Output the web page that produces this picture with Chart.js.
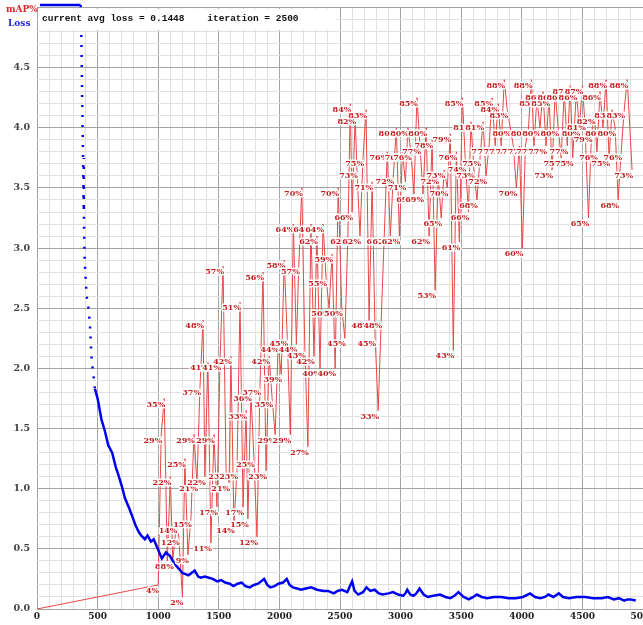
<!DOCTYPE html>
<html>
<head>
<meta charset="utf-8">
<script src="https://cdn.jsdelivr.net/npm/chart.js@4"></script>
<style>
  html, body { margin: 0; padding: 0; background: #fff; overflow: hidden; }
  #chart { position: absolute; left: 0; top: 0; }
</style>
</head>
<body>
<canvas id="chart" width="680" height="625"></canvas>
<script>
// training loss (avg loss per iteration)
const lossIter = [25, 120, 240, 360, 365, 372, 380, 386, 392, 398, 410, 425, 437, 451, 465, 478, 500, 533, 560, 588,
  620, 650, 670, 700, 726, 760, 790, 811, 840, 861, 890, 912, 940, 963, 996, 1030, 1064, 1098, 1120, 1148,
  1175, 1199, 1225, 1250, 1275, 1301, 1330, 1351, 1385, 1418, 1450, 1486, 1520, 1553, 1590, 1621, 1655, 1688, 1720, 1756,
  1790, 1824, 1850, 1874, 1900, 1925, 1960, 1992, 2030, 2060, 2085, 2111, 2145, 2179, 2220, 2262, 2310, 2364, 2400, 2448,
  2480, 2516, 2560, 2600, 2620, 2650, 2690, 2718, 2750, 2786, 2820, 2853, 2900, 2937, 2980, 3021, 3040, 3055, 3080, 3106,
  3130, 3156, 3190, 3224, 3270, 3326, 3370, 3410, 3445, 3477, 3520, 3562, 3600, 3629, 3670, 3714, 3770, 3832, 3890, 3950,
  4010, 4068, 4110, 4153, 4190, 4220, 4260, 4305, 4340, 4389, 4450, 4524, 4590, 4659, 4710, 4760, 4800, 4845, 4870, 4895, 4940];
const lossVal = [5.02, 5.02, 5.02, 5.02, 4.85, 4.3, 3.75, 3.3, 2.95, 2.8, 2.6, 2.5, 2.36, 2.07, 1.95, 1.83, 1.75, 1.57, 1.48, 1.36,
  1.3, 1.18, 1.12, 1.02, 0.92, 0.84, 0.76, 0.70, 0.64, 0.61, 0.58, 0.61, 0.56, 0.58, 0.50, 0.42, 0.47, 0.44, 0.40, 0.36,
  0.33, 0.30, 0.29, 0.28, 0.30, 0.32, 0.27, 0.26, 0.27, 0.26, 0.25, 0.23, 0.24, 0.22, 0.21, 0.19, 0.21, 0.22, 0.19, 0.18,
  0.20, 0.21, 0.23, 0.25, 0.20, 0.18, 0.19, 0.21, 0.22, 0.25, 0.20, 0.18, 0.17, 0.16, 0.17, 0.18, 0.16, 0.15, 0.15, 0.13,
  0.15, 0.16, 0.14, 0.23, 0.15, 0.12, 0.14, 0.18, 0.15, 0.16, 0.13, 0.12, 0.13, 0.14, 0.12, 0.11, 0.13, 0.16, 0.12, 0.11,
  0.13, 0.17, 0.12, 0.10, 0.11, 0.12, 0.10, 0.09, 0.11, 0.14, 0.10, 0.08, 0.10, 0.12, 0.10, 0.09, 0.10, 0.10, 0.09, 0.09,
  0.10, 0.13, 0.10, 0.09, 0.10, 0.12, 0.10, 0.13, 0.10, 0.09, 0.10, 0.10, 0.09, 0.09, 0.10, 0.08, 0.09, 0.07, 0.08, 0.08, 0.07];

// mAP checkpoints, in percent (first point is the origin, not a measurement)
const mapIter = [0, 1000, 1025, 1050, 1075, 1100, 1120, 1150, 1170, 1200, 1220, 1245, 1270, 1295, 1320, 1345, 1370, 1385, 1410, 1435,
  1460, 1485, 1510, 1535, 1560, 1585, 1600, 1625, 1650, 1675, 1700, 1725, 1740, 1765, 1790, 1815, 1840, 1865, 1890, 1915,
  1940, 1965, 1990, 2015, 2040, 2065, 2090, 2115, 2140, 2160, 2185, 2210, 2235, 2260, 2285, 2310, 2335, 2360, 2385, 2410,
  2435, 2460, 2485, 2515, 2540, 2565, 2585, 2600, 2625, 2640, 2665, 2690, 2715, 2740, 2765, 2790, 2815, 2840, 2865, 2890,
  2915, 2940, 2965, 2990, 3015, 3040, 3060, 3085, 3110, 3135, 3160, 3185, 3210, 3235, 3260, 3285, 3310, 3335, 3360, 3385,
  3410, 3435, 3460, 3485, 3510, 3535, 3560, 3580, 3605, 3630, 3655, 3680, 3705, 3730, 3755, 3780, 3805, 3830, 3855, 3880,
  3905, 3930, 3955, 3980, 4005, 4030, 4055, 4080, 4100, 4125, 4150, 4175, 4200, 4225, 4250, 4275, 4300, 4325, 4350, 4375,
  4400, 4420, 4450, 4475, 4500, 4520, 4550, 4575, 4600, 4620, 4645, 4670, 4695, 4720, 4745, 4770, 4795, 4820, 4845, 4870, 4910];
const mapPct = [0, 4, 29, 35, 8, 22, 8, 14, 12, 2, 25, 9, 15, 29, 21, 37, 48, 22, 41, 11,
  29, 17, 41, 57, 23, 21, 42, 14, 23, 51, 17, 33, 15, 36, 25, 12, 37, 56, 23, 42,
  35, 29, 44, 39, 58, 45, 29, 64, 44, 57, 70, 43, 27, 64, 42, 62, 40, 64, 55, 50,
  59, 40, 70, 50, 45, 62, 84, 66, 82, 73, 62, 75, 83, 48, 71, 45, 33, 48, 62, 76,
  62, 72, 80, 62, 76, 71, 80, 76, 69, 85, 77, 69, 80, 62, 78, 53, 72, 65, 73, 70,
  79, 43, 76, 61, 85, 74, 66, 81, 73, 68, 75, 81, 72, 77, 85, 77, 84, 77, 88, 83,
  80, 77, 70, 77, 60, 77, 80, 88, 77, 85, 80, 86, 77, 85, 73, 86, 80, 75, 86, 77,
  87, 75, 86, 80, 87, 81, 65, 79, 82, 76, 86, 80, 88, 75, 83, 80, 68, 76, 83, 88, 73];

const xLabels = [0, 500, 1000, 1500, 2000, 2500, 3000, 3500, 4000, 4500, 5000];
const yLabels = [0, 0.5, 1, 1.5, 2, 2.5, 3, 3.5, 4, 4.5];
const headerText = "current avg loss = 0.1448    iteration = 2500";

const isMajorX = v => v % 500 === 0;
const isMajorY = v => Math.abs(v * 2 - Math.round(v * 2)) < 1e-6;

const mapLabels = {
  id: 'mapLabels',
  afterDatasetsDraw(chart) {
    const ctx = chart.ctx;
    const pts = chart.getDatasetMeta(1).data;
    ctx.save();
    ctx.font = 'bold 8px "DejaVu Serif"';
    ctx.textAlign = 'right';
    ctx.textBaseline = 'middle';
    ctx.lineJoin = 'round';
    for (let i = 1; i < pts.length; i++) {
      const txt = mapPct[i] + '%';
      const x = pts[i].x + 1, y = pts[i].y + 6;
      ctx.strokeStyle = '#fff';
      ctx.lineWidth = 3;
      ctx.strokeText(txt, x, y);
      ctx.fillStyle = '#c41c1c';
      ctx.fillText(txt, x, y);
    }
    ctx.restore();
  }
};

const header = {
  id: 'header',
  afterDraw(chart) {
    const ctx = chart.ctx;
    ctx.save();
    ctx.fillStyle = '#fff';
    ctx.fillRect(38, 9, 298, 21);
    ctx.fillStyle = '#111';
    ctx.font = 'bold 9.5px "Liberation Mono"';
    ctx.textBaseline = 'middle';
    ctx.fillText(headerText, 42, 19);
    ctx.font = 'bold 9px "DejaVu Serif"';
    ctx.fillStyle = '#d82828';
    ctx.fillText('mAP%', 6, 10);
    ctx.fillStyle = '#2828e0';
    ctx.fillText('Loss', 8, 24);
    ctx.restore();
  }
};

new Chart(document.getElementById('chart'), {
  type: 'line',
  data: {
    datasets: [{
      label: 'Loss',
      data: lossIter.map((it, i) => ({ x: it, y: lossVal[i] })),
      borderColor: '#0000f0',
      borderWidth: 2.5,
      pointRadius: 0,
      clip: 5,
      segment: {
        borderDash: c => (c.p0.parsed.x >= 360 && c.p1.parsed.x <= 480) ? [2, 8] : undefined
      }
    }, {
      label: 'mAP%',
      // 100% sits at the top of the 0..5 scale
      data: mapIter.map((it, i) => ({ x: it, y: mapPct[i] / 20 })),
      borderColor: '#e84848',
      borderWidth: 1,
      pointRadius: 0
    }]
  },
  options: {
    responsive: false,
    animation: false,
    devicePixelRatio: 1,
    layout: { padding: { top: 7.5, right: 37, left: 0, bottom: 0 } },
    plugins: { legend: { display: false }, tooltip: { enabled: false } },
    scales: {
      x: {
        type: 'linear',
        min: 0,
        max: 5000,
        afterFit: s => { s.height = 16; s.paddingLeft = 0; s.paddingRight = 0; },
        border: { display: false },
        grid: {
          drawTicks: false,
          color: c => isMajorX(c.tick.value) ? '#a4a4a4' : '#e0e0e0'
        },
        ticks: {
          stepSize: 100,
          autoSkip: false,
          maxRotation: 0,
          padding: 2,
          color: '#222',
          font: { family: 'DejaVu Serif', size: 9, weight: 'bold' },
          callback: v => xLabels.includes(v) ? String(v) : ''
        }
      },
      y: {
        min: 0,
        max: 5,
        afterFit: s => { s.width = 37; s.paddingTop = 0; s.paddingBottom = 0; },
        border: { display: false },
        grid: {
          drawTicks: false,
          color: c => isMajorY(c.tick.value) ? '#a4a4a4' : '#e0e0e0'
        },
        ticks: {
          stepSize: 0.1,
          autoSkip: false,
          padding: 7,
          color: '#444',
          font: { family: 'DejaVu Serif', size: 9.5, weight: 'bold' },
          callback: v => {
            const l = yLabels.find(t => Math.abs(t - v) < 1e-6);
            return l === undefined ? '' : l.toFixed(1);
          }
        }
      }
    }
  },
  plugins: [mapLabels, header]
});
</script>
</body>
</html>
